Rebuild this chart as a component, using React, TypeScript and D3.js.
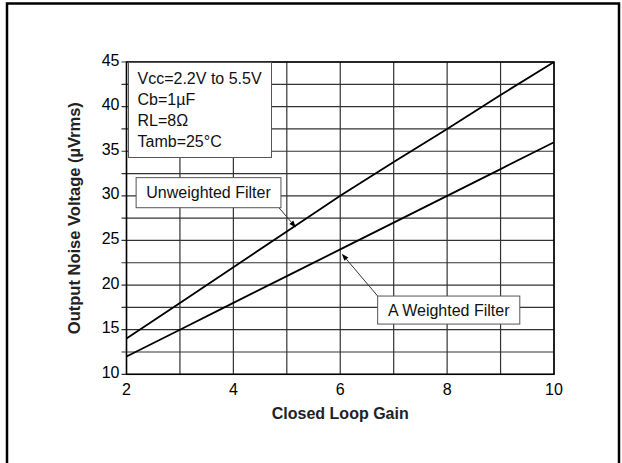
import React from "react";
import * as d3 from "d3";

const gains = [2, 3, 4, 5, 6, 7, 8, 9, 10];
const unweighted = [14, 18, 22, 26, 30, 33.8, 37.5, 41.3, 45];
const aWeighted = [12, 15, 18, 21, 24, 27, 30, 33, 36];
const xTicks = [2, 4, 6, 8, 10];
const yTicks = [10, 15, 20, 25, 30, 35, 40, 45];
const conditions = ["Vcc=2.2V to 5.5V", "Cb=1\u00b5F", "RL=8\u03a9", "Tamb=25\u00b0C"];
const xTitle = "Closed Loop Gain";
const yTitle = "Output Noise Voltage (\u00b5Vrms)";
const seriesLabels = ["Unweighted Filter", "A Weighted Filter"];

const W = 622;
const H = 463;
const M = { left: 126.5, right: 554, top: 62, bottom: 374.3 };
const FONT = "'Liberation Sans', Arial, Helvetica, sans-serif";
const FS = 16;

export default function App() {
  const x = d3.scaleLinear().domain([2, 10]).range([M.left, M.right]);
  const y = d3.scaleLinear().domain([10, 45]).range([M.bottom, M.top]);
  const line = d3
    .line<[number, number]>()
    .x((d) => x(d[0]))
    .y((d) => y(d[1]));
  const uPts = gains.map((g, i) => [g, unweighted[i]] as [number, number]);
  const aPts = gains.map((g, i) => [g, aWeighted[i]] as [number, number]);
  const vGrid = d3.range(2, 10.001, 1);
  const hGrid = d3.range(10, 45.001, 2.5);

  // annotation boxes in data space
  const uBox = { x0: 2.18, x1: 4.89, y0: 32.04, y1: 28.67 };
  const aBox = { x0: 6.7, x1: 9.36, y0: 18.77, y1: 15.63 };
  const uTip = { g: 5.17, v: 26.45 };
  const aTip = { g: 6.03, v: 23.5 };

  const arrow = (fx: number, fy: number, tx: number, ty: number, key: string) => {
    const ang = Math.atan2(ty - fy, tx - fx);
    const L = 7;
    const w = 2.6;
    const bx = tx - L * Math.cos(ang);
    const by = ty - L * Math.sin(ang);
    const p1 = [bx + w * Math.sin(ang), by - w * Math.cos(ang)];
    const p2 = [bx - w * Math.sin(ang), by + w * Math.cos(ang)];
    return (
      <g key={key}>
        <line x1={fx} y1={fy} x2={bx} y2={by} stroke="#333" strokeWidth={1} />
        <path d={`M${tx},${ty}L${p1[0]},${p1[1]}L${p2[0]},${p2[1]}Z`} fill="#000" />
      </g>
    );
  };

  return (
    <svg
      width={W}
      height={H}
      style={{ position: "absolute", left: 0, top: 0, background: "#fff" }}
      fontFamily={FONT}
    >
      <rect x={0} y={0} width={W} height={H} fill="#fff" />
      <rect x={7} y={3.5} width={612} height={480} fill="none" stroke="#000" strokeWidth={2.5} />

      {/* grid */}
      {vGrid.map((g) => (
        <line key={"v" + g} x1={x(g)} x2={x(g)} y1={M.top} y2={M.bottom} stroke="#333" strokeWidth={1.2} />
      ))}
      {hGrid.map((v) => (
        <line key={"h" + v} x1={M.left - 5} x2={M.right} y1={y(v)} y2={y(v)} stroke="#333" strokeWidth={1.2} />
      ))}
      <rect
        x={M.left}
        y={M.top}
        width={M.right - M.left}
        height={M.bottom - M.top}
        fill="none"
        stroke="#000"
        strokeWidth={1.5}
      />

      {/* series */}
      <path d={line(uPts) || ""} fill="none" stroke="#000" strokeWidth={1.8} />
      <path d={line(aPts) || ""} fill="none" stroke="#000" strokeWidth={1.8} />

      {/* ticks */}
      {yTicks.map((v) => (
        <text key={"yt" + v} x={M.left - 7} y={y(v) - 2} dy="0.35em" textAnchor="end" fontSize={FS} fill="#000">
          {v}
        </text>
      ))}
      {xTicks.map((g) => (
        <text key={"xt" + g} x={x(g)} y={M.bottom + 21} textAnchor="middle" fontSize={FS} fill="#000">
          {g}
        </text>
      ))}
      <text
        x={(M.left + M.right) / 2}
        y={M.bottom + 45}
        textAnchor="middle"
        fontSize={FS}
        fontWeight="bold"
        fill="#222"
      >
        {xTitle}
      </text>
      <text
        transform={`translate(80,${(M.top + M.bottom) / 2}) rotate(-90)`}
        textAnchor="middle"
        fontSize={16.5}
        fontWeight="bold"
        fill="#222"
      >
        {yTitle}
      </text>

      {/* conditions box */}
      <rect x={M.left + 2} y={M.top + 0.5} width={143} height={95} fill="#fff" stroke="#555" strokeWidth={1} />
      {conditions.map((c, i) => (
        <text key={c} x={M.left + 11} y={M.top + 22} dy={i * 20.9} fontSize={FS} fill="#111">
          {c}
        </text>
      ))}

      {/* annotations */}
      {arrow(x(uBox.x1) - 2, y(uBox.y1), x(uTip.g), y(uTip.v), "ua")}
      <rect
        x={x(uBox.x0)}
        y={y(uBox.y0)}
        width={x(uBox.x1) - x(uBox.x0)}
        height={y(uBox.y1) - y(uBox.y0)}
        fill="#fff"
        stroke="#555"
        strokeWidth={1}
      />
      <text
        x={(x(uBox.x0) + x(uBox.x1)) / 2}
        y={(y(uBox.y0) + y(uBox.y1)) / 2}
        dy="0.35em"
        textAnchor="middle"
        fontSize={FS}
        fill="#111"
      >
        {seriesLabels[0]}
      </text>

      {arrow(x(aBox.x0), y(aBox.y0), x(aTip.g), y(aTip.v), "aa")}
      <rect
        x={x(aBox.x0)}
        y={y(aBox.y0)}
        width={x(aBox.x1) - x(aBox.x0)}
        height={y(aBox.y1) - y(aBox.y0)}
        fill="#fff"
        stroke="#555"
        strokeWidth={1}
      />
      <text
        x={(x(aBox.x0) + x(aBox.x1)) / 2}
        y={(y(aBox.y0) + y(aBox.y1)) / 2}
        dy="0.35em"
        textAnchor="middle"
        fontSize={FS}
        fill="#111"
      >
        {seriesLabels[1]}
      </text>
    </svg>
  );
}
